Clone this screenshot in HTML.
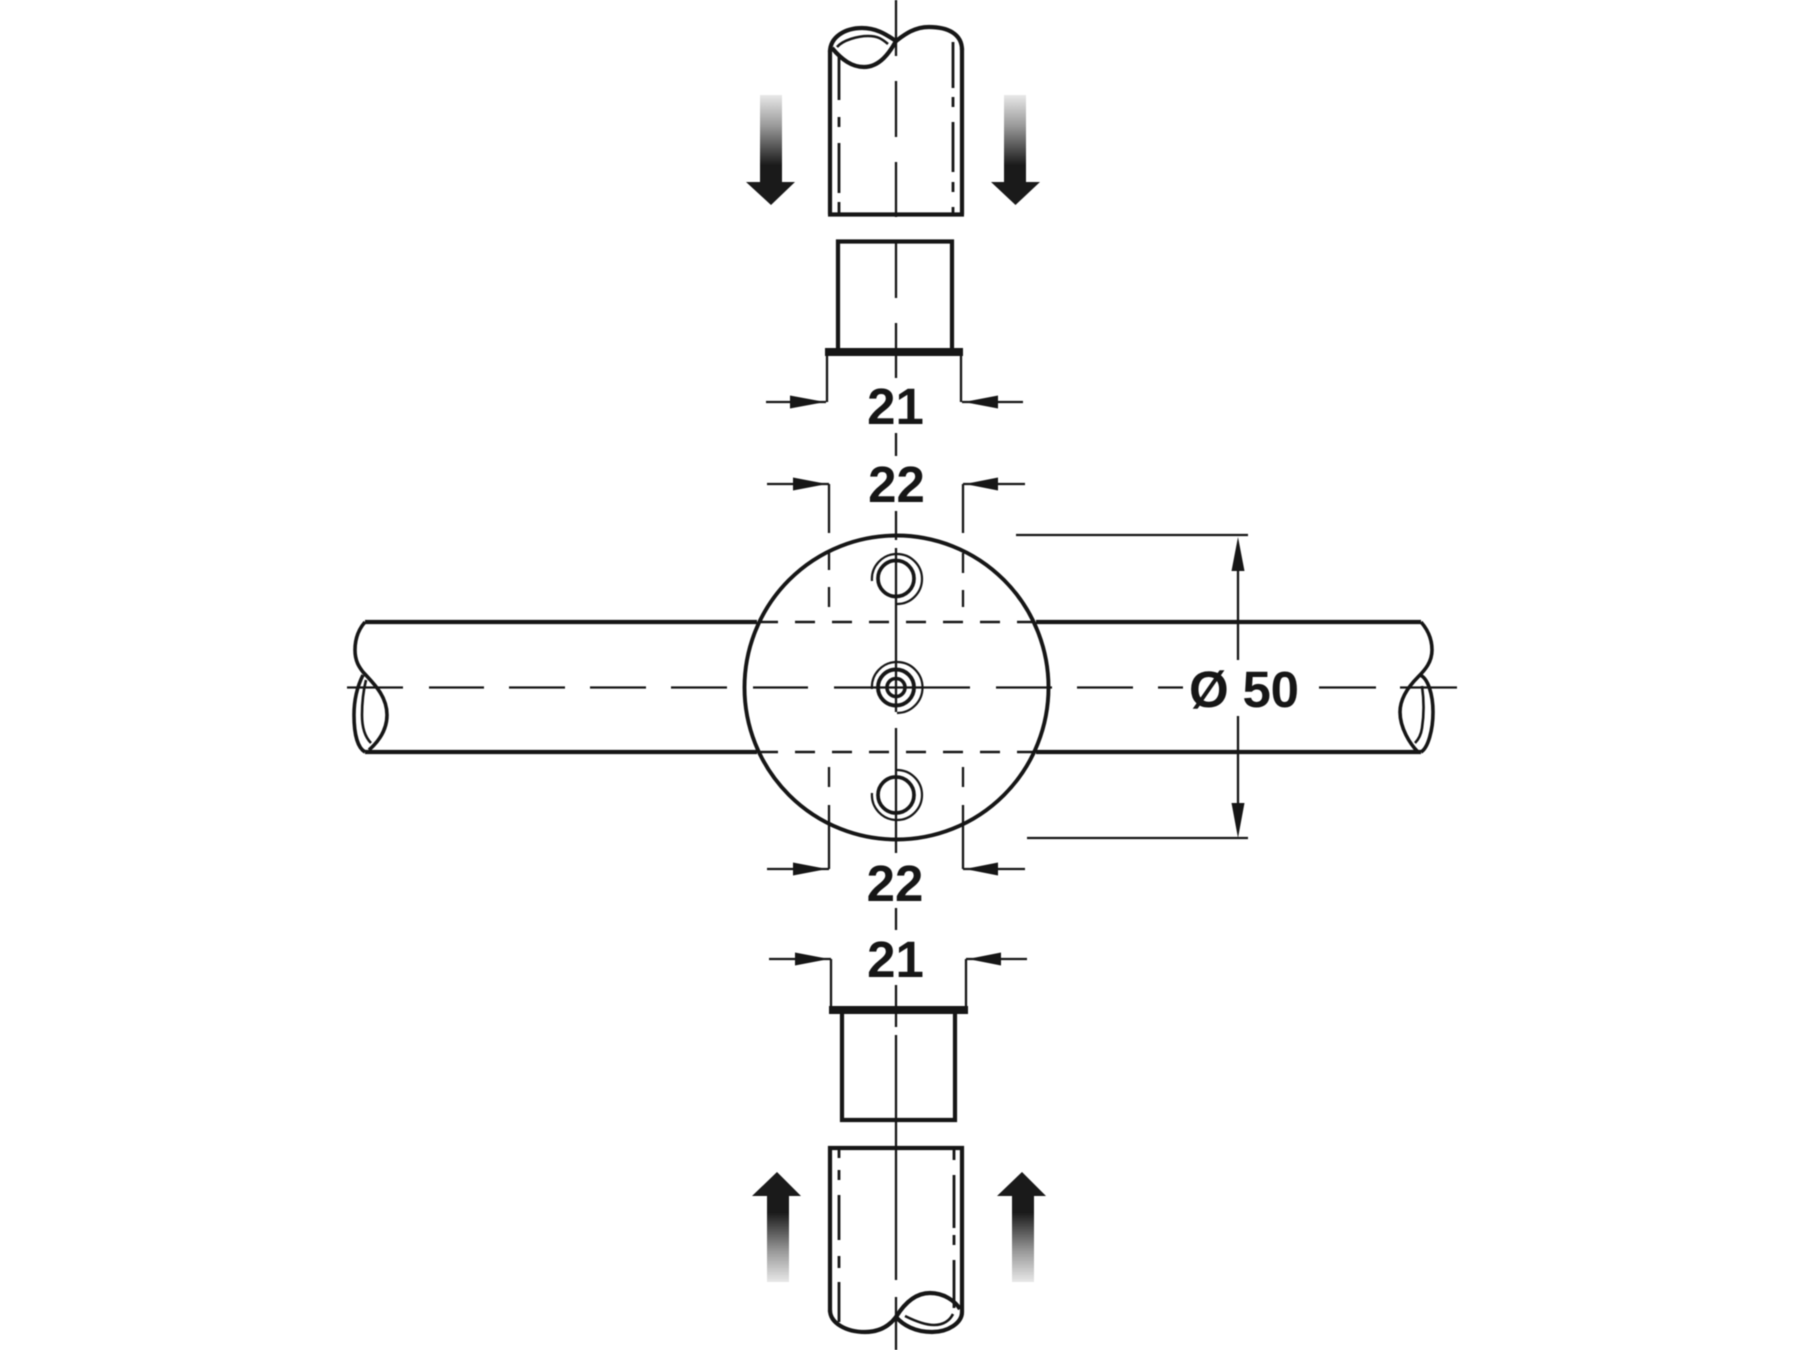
<!DOCTYPE html>
<html><head><meta charset="utf-8"><style>
html,body{margin:0;padding:0;background:#fff}
svg{display:block;filter:blur(0.6px)}
text{font-family:"Liberation Sans",sans-serif;font-weight:700;font-size:51px;fill:#161616;text-anchor:middle}
</style></head><body>
<svg width="1800" height="1350" viewBox="0 0 1800 1350" xmlns="http://www.w3.org/2000/svg">
<defs>
<linearGradient id="gd" x1="0" y1="0" x2="0" y2="1"><stop offset="0" stop-color="#e8e8e8"/><stop offset="0.35" stop-color="#9a9a9a"/><stop offset="0.8" stop-color="#1a1a1a"/><stop offset="1" stop-color="#1a1a1a"/></linearGradient>
<linearGradient id="gu" x1="0" y1="1" x2="0" y2="0"><stop offset="0" stop-color="#e8e8e8"/><stop offset="0.35" stop-color="#9a9a9a"/><stop offset="0.8" stop-color="#1a1a1a"/><stop offset="1" stop-color="#1a1a1a"/></linearGradient>
</defs>
<rect width="1800" height="1350" fill="#fff"/>

<!-- block arrows -->
<rect x="760" y="95" width="22" height="88" fill="url(#gd)"/><path d="M746 182H795L771 205Z" fill="#1a1a1a"/>
<rect x="1004" y="95" width="22" height="88" fill="url(#gd)"/><path d="M991 182H1040L1015.5 205Z" fill="#1a1a1a"/>
<rect x="767" y="1195" width="22" height="87" fill="url(#gu)"/><path d="M752 1196H801L777 1172Z" fill="#1a1a1a"/>
<rect x="1012" y="1195" width="22" height="87" fill="url(#gu)"/><path d="M997 1196H1046L1022 1172Z" fill="#1a1a1a"/>

<g fill="none" stroke="#161616" stroke-linecap="butt">
<!-- axis vertical -->
<path stroke-width="2.3" d="M896 0V56M896 81V137M896 162V217M896 243V298M896 323V378M896 433V456M896 511V540M896 548V712M896 728V853M896 908V930M896 985V1027M896 1035V1280M896 1297V1350"/>
<!-- axis horizontal -->
<path stroke-width="2.3" d="M347 687.5H403M429 687.5H484M509 687.5H565M590 687.5H646M671 687.5H727M753 687.5H808M834 687.5H970M996 687.5H1052M1077 687.5H1133M1158 687.5H1183M1319 687.5H1376M1400 687.5H1457"/>

<!-- top tube -->
<g stroke-width="4.2">
<path d="M830 214.5V50M962 214.5V48M828 214.5H964"/>
<path d="M830 52C830 37 845 28 862 28C878 28 888 36 896 41C904 35 914 27 929 27C948 27 962 34 962 50"/>
<path d="M832 48C842 60 852 67 864 67C880 67 890 52 896 41"/>
<!-- top sleeve -->
<path d="M838 352V241.5H952V352"/>
<!-- bottom sleeve -->
<path d="M842 1012V1120H955V1012"/>
<!-- bottom tube -->
<path d="M830 1312V1148H962V1312M828 1148H964"/>
<path d="M830 1310C830 1323 846 1332 865 1332C880 1332 890 1325 896 1317C903 1325 915 1332 932 1332C948 1332 962 1323 962 1312"/>
<path d="M896 1317C904 1304 915 1293 930 1293C944 1293 955 1301 960 1309"/>
</g>
<path stroke-width="2.6" d="M837 47C843 40 858 36 868 36C878 36 882 39 888 44"/>
<path stroke-width="2.6" d="M905 1316C915 1321 925 1325 934 1325C944 1325 950 1320 953 1314"/>
<!-- inner dash dots -->
<path stroke-width="2.8" d="M839 57V100M839 117V127M839 143V193M839 202V213M953 42V88M953 97V107M953 122V172M953 182V192M953 207V213M839 1150V1158M839 1170V1180M839 1195V1240M839 1256V1268M839 1282V1322M954 1150V1160M954 1175V1228M954 1235V1245M954 1260V1308"/>
<!-- flanges -->
<path stroke-width="8" d="M825 352H963M829 1010H968"/>
<!-- extension lines -->
<path stroke-width="2.3" d="M827 356V402M961 356V402M831 959V1006M966 959V1006M829 484V533M829 550V570M829 587V607M829 767V787M829 805V869M963 484V533M963 553V573M963 590V607M963 767V787M963 805V869M1016 535H1248M1027 838H1248M1238 570V660M1238 716V804"/>
<!-- dim arrows shafts -->
<path stroke-width="2.3" d="M766 402H826M962 402H1023M767 484H829M963 484H1025M767 869H829M963 869H1025M769 959H831M966 959H1027"/>

<!-- horizontal tube -->
<path stroke-width="4.2" d="M365 622H757M1036 622H1421M365 752H757M1036 752H1421"/>
<path stroke-width="2.5" stroke-dasharray="20 17" d="M758 622H1034M758 752H1034"/>
<path stroke-width="3.6" d="M365 622C358 630 355 640 355 650C355 662 360 668 363 672C372 682 387 695 387 715C387 730 378 742 369 750"/>
<path stroke-width="3.6" d="M363 675C358 685 354 697 354 715C354 735 358 748 365 752"/>
<path stroke-width="2.6" d="M366 680C363 692 362 705 362 715C362 730 366 738 371 743"/>
<path stroke-width="3.6" d="M1421 622C1428 630 1432 640 1432 650C1432 662 1425 670 1418 677C1410 685 1400 697 1400 712C1400 728 1410 744 1418 752"/>
<path stroke-width="3.6" d="M1420 675C1428 678 1433 695 1433 712C1433 730 1428 748 1421 752"/>
<path stroke-width="2.6" d="M1422 686C1424 700 1424 715 1422 728C1421 735 1418 740 1415 743"/>

<!-- main circle -->
<circle cx="896.5" cy="687.5" r="152" stroke-width="3.9"/>
<!-- holes -->
<circle cx="896" cy="578.5" r="18" stroke-width="3.7"/>
<circle cx="896" cy="687.5" r="18" stroke-width="3.9"/>
<circle cx="896" cy="687.5" r="9" stroke-width="3.6"/>
<circle cx="896" cy="795" r="18" stroke-width="3.7"/>
<path stroke-width="2.2" d="M872 581A25 25 0 0 1 897 554A25 25 0 0 1 897 604"/>
<path stroke-width="2.2" d="M872 689A25 25 0 0 1 897 662A25 25 0 0 1 897 713"/>
<path stroke-width="2.2" d="M872 793A25 25 0 0 0 897 820A25 25 0 0 0 897 770"/>
</g>

<!-- dim arrowheads -->
<g fill="#161616">
<path d="M790 395.5L825 402L790 408.5ZM998 395.5L964 402L998 408.5Z"/>
<path d="M793 477.5L827 484L793 490.5ZM998 477.5L965 484L998 490.5Z"/>
<path d="M793 862.5L827 869L793 875.5ZM998 862.5L965 869L998 875.5Z"/>
<path d="M795 952.5L829 959L795 965.5ZM1001 952.5L968 959L1001 965.5Z"/>
<path d="M1238 537L1231.5 571H1244.5ZM1238 838L1231.5 803H1244.5Z"/>
</g>

<text x="895.5" y="424">21</text>
<text x="896.5" y="502">22</text>
<text x="895" y="901">22</text>
<text x="895.5" y="977">21</text>
<text x="1189" y="707" style="text-anchor:start" textLength="110" lengthAdjust="spacing">Ø 50</text>
</svg>
</body></html>
